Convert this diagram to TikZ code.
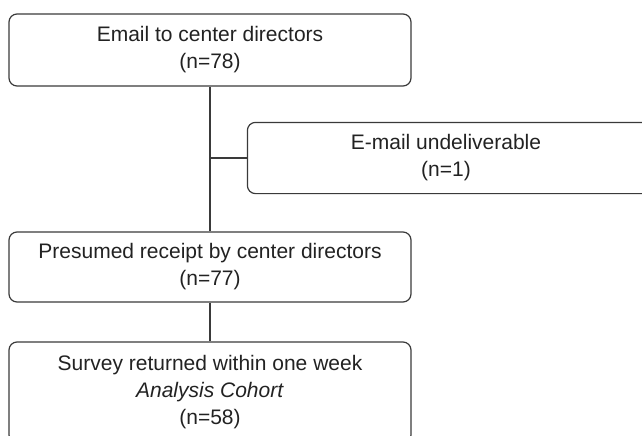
\documentclass[tikz,border=0pt]{standalone}
\usepackage{fontspec}
\setmainfont{Liberation Sans}
\definecolor{boxline}{HTML}{3A3A3A}
\definecolor{txt}{HTML}{222222}
\begin{document}
\begin{tikzpicture}[x=1pt,y=-1pt,
  boxedge/.style={draw=boxline, line width=1.2pt, rounded corners=8pt},
  flowbox/.style={boxedge,
    minimum width=402pt, inner sep=0pt, align=center, text=txt,
    font=\fontsize{21}{27}\selectfont},
  link/.style={draw=boxline, line width=1.2pt}]
\useasboundingbox (0,0) rectangle (642,436);
\clip (0,0) rectangle (642,436);
\node[flowbox, minimum height=72pt] (top) at (210,50) {Email to center directors\\(n=78)};
\node[flowbox, draw=none, minimum height=70pt, minimum width=396pt] (undel) at (446,158) {E-mail undeliverable\\(n=1)};
\draw[boxedge] (undel.north west) rectangle ([xshift=12pt]undel.south east);
\node[flowbox, minimum height=70pt] (mid) at (210,267) {Presumed receipt by center directors\\(n=77)};
\node[flowbox, minimum height=101pt] (bot) at (210,392.5) {Survey returned within one week\\\textit{Analysis Cohort}\\(n=58)};
\draw[link] (top.south) -- (mid.north);
\draw[link] (undel.west) -- (undel.west -| top.south);
\draw[link] (mid.south) -- (bot.north);
\end{tikzpicture}
\end{document}
